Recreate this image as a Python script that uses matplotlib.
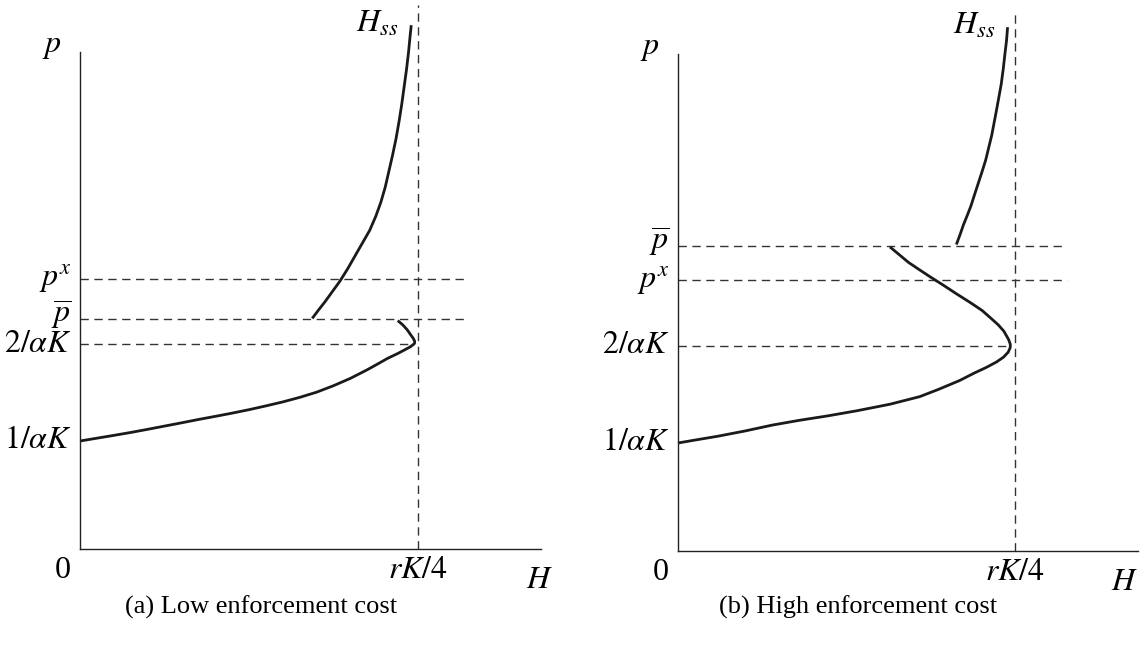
import matplotlib
matplotlib.use("Agg")
import matplotlib.pyplot as plt

plt.rcParams["font.family"] = ["Liberation Serif", "DejaVu Serif"]
plt.rcParams["mathtext.fontset"] = "stix"

# H in units of rK/4, p in units of 1/alphaK (schematic)

# panel (a): low enforcement cost
A_LOWER_H = [0.0, 0.05, 0.10, 0.15, 0.20, 0.25, 0.30, 0.35, 0.40, 0.45, 0.50, 0.55,
             0.60, 0.65, 0.70, 0.75, 0.80, 0.85, 0.88, 0.91, 0.94, 0.96, 0.975, 0.985,
             0.99, 0.99, 0.986, 0.978, 0.968, 0.955, 0.940]
A_LOWER_P = [1.0, 1.026, 1.052, 1.079, 1.108, 1.138, 1.168, 1.199, 1.228, 1.258, 1.290, 1.325,
             1.362, 1.404, 1.452, 1.512, 1.580, 1.660, 1.712, 1.765, 1.810, 1.843, 1.868, 1.890,
             1.905, 1.925, 1.950, 1.985, 2.030, 2.075, 2.115]
A_UPPER_H = [0.687, 0.705, 0.725, 0.747, 0.769, 0.792, 0.813, 0.835, 0.857, 0.875, 0.890,
             0.903, 0.914, 0.925, 0.935, 0.944, 0.952, 0.959, 0.966, 0.972, 0.976, 0.980]
A_UPPER_P = [2.135, 2.21, 2.29, 2.385, 2.48, 2.595, 2.71, 2.83, 2.95, 3.08, 3.21,
             3.35, 3.50, 3.65, 3.80, 3.96, 4.12, 4.28, 4.44, 4.60, 4.73, 4.85]
A_LEVEL_NAMES = [r"$p^x$", r"$\overline{p}$", r"$2/\alpha K$", r"$1/\alpha K$"]
A_LEVEL_VALUES = [2.5, 2.127, 1.896, 1.0]
A_DASH_END = [1.137, 1.137, 0.989, None]

# panel (b): high enforcement cost
B_LOWER_H = [0.0, 0.05, 0.117, 0.20, 0.28, 0.36, 0.444, 0.53, 0.629, 0.717, 0.771, 0.836,
             0.88, 0.915, 0.945, 0.966, 0.980, 0.986, 0.986, 0.981, 0.967, 0.950, 0.925,
             0.902, 0.865, 0.826, 0.788, 0.749, 0.716, 0.684, 0.656, 0.629]
B_LOWER_P = [1.0, 1.027, 1.062, 1.112, 1.166, 1.210, 1.251, 1.298, 1.359, 1.429, 1.494, 1.579,
             1.649, 1.700, 1.750, 1.795, 1.842, 1.885, 1.915, 1.958, 2.035, 2.095, 2.165,
             2.228, 2.305, 2.382, 2.460, 2.537, 2.605, 2.672, 2.745, 2.815]
B_UPPER_H = [0.826, 0.837, 0.847, 0.858, 0.869, 0.880, 0.891, 0.902, 0.913, 0.922,
             0.931, 0.938, 0.945, 0.952, 0.959, 0.965, 0.970, 0.975, 0.978]
B_UPPER_P = [2.838, 2.93, 3.02, 3.105, 3.193, 3.30, 3.405, 3.51, 3.62, 3.735,
             3.85, 3.965, 4.08, 4.20, 4.32, 4.46, 4.60, 4.73, 4.85]
B_LEVEL_NAMES = [r"$\overline{p}$", r"$p^x$", r"$2/\alpha K$", r"$1/\alpha K$"]
B_LEVEL_VALUES = [2.826, 2.506, 1.900, 1.0]
B_DASH_END = [1.142, 1.155, 0.984, None]

CAPTIONS = ["(a) Low enforcement cost", "(b) High enforcement cost"]

W, H = 1147, 662
XMAX, YMAX = 1.365, 4.6


def draw_panel(fig, origin, hu, pu, lower, upper, names, values, dash_end, vtop,
               caption, h_x):
    x0, y0 = origin
    ax = fig.add_axes([x0 / W, (H - y0) / H, XMAX * hu / W, YMAX * pu / H])
    ax.set_xlim(0, XMAX)
    ax.set_ylim(0, YMAX)
    ax.set_xticks([])
    ax.set_yticks([])
    for s in ["top", "right"]:
        ax.spines[s].set_visible(False)
    for s in ["left", "bottom"]:
        ax.spines[s].set_linewidth(1.0)
        ax.spines[s].set_color("#222222")

    dash = dict(color="#333333", lw=1.0, dashes=(6, 4))
    for v, end in zip(values, dash_end):
        if end is not None:
            ax.plot([0, end], [v, v], clip_on=False, **dash)
    ax.plot([1, 1], [0, vtop], clip_on=False, **dash)

    ax.plot(*lower, color="#1a1a1a", lw=2.0, clip_on=False, solid_capstyle="butt")
    ax.plot(*upper, color="#1a1a1a", lw=2.0, clip_on=False, solid_capstyle="butt")

    fs = 23
    for name, v in zip(names, values):
        nudge = 0.04 if name == r"$\overline{p}$" else 0.0
        ax.text(-0.025, v + nudge, name, ha="right", va="center", fontsize=fs)
    ax.text(-0.085, 4.65, r"$p$", ha="center", va="center", fontsize=fs)
    ax.text(-0.05, -0.2, "0", ha="center", va="center", fontsize=fs)
    ax.text(1.0, -0.2, r"$rK/4$", ha="center", va="center", fontsize=fs)
    ax.text(h_x, -0.29, r"$H$", ha="center", va="center", fontsize=fs)
    ax.text(upper[0][-1] - 0.1, 4.86, r"$H_{ss}$", ha="center", va="center", fontsize=fs)
    fig.text((x0 + 0.535 * hu) / W, 1 - 607 / H, caption, ha="center", va="center",
             fontsize=19)
    return ax


fig = plt.figure(figsize=(W / 100, H / 100), dpi=100)
draw_panel(fig, (80, 549), 338, 108, (A_LOWER_H, A_LOWER_P), (A_UPPER_H, A_UPPER_P),
           A_LEVEL_NAMES, A_LEVEL_VALUES, A_DASH_END, 5.04, CAPTIONS[0], 1.36)
draw_panel(fig, (678, 551), 337, 108, (B_LOWER_H, B_LOWER_P), (B_UPPER_H, B_UPPER_P),
           B_LEVEL_NAMES, B_LEVEL_VALUES, B_DASH_END, 4.98, CAPTIONS[1], 1.325)
fig.savefig("out.png", dpi=100)
